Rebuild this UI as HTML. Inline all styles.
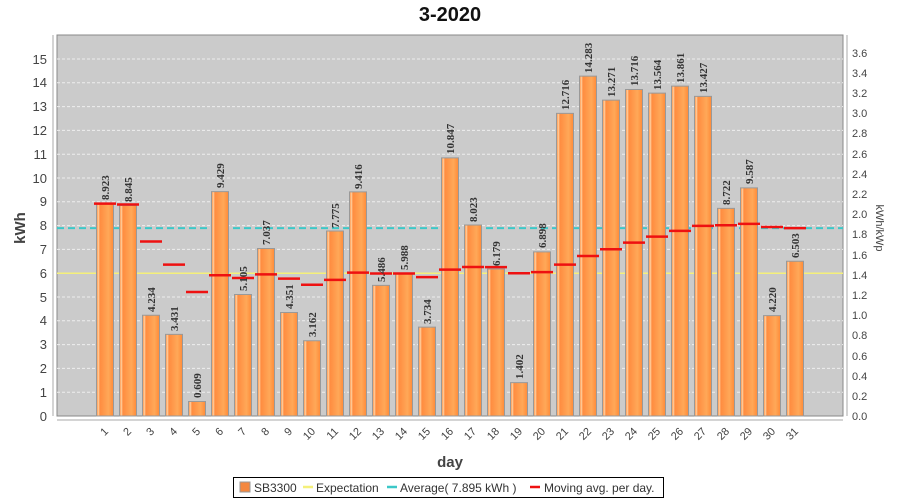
<!DOCTYPE html>
<html><head><meta charset="utf-8"><style>
html,body{margin:0;padding:0;background:#fff;}
svg{display:block;font-family:"Liberation Sans",sans-serif;}
.v{font-family:"Liberation Serif",serif;font-weight:bold;font-size:11px;fill:#333;}
.xt{font-size:11px;fill:#444;}
.yt{font-size:13px;fill:#444;}
.rt{font-size:11px;fill:#444;}
</style></head><body>
<svg width="900" height="500" viewBox="0 0 900 500">
<defs>
<linearGradient id="g" x1="0" x2="1" y1="0" y2="0">
<stop offset="0" stop-color="#ff8a3a"/><stop offset="0.12" stop-color="#ffd0a0"/><stop offset="0.2" stop-color="#ff8c40"/><stop offset="0.7" stop-color="#ffa858"/><stop offset="1" stop-color="#ff8a38"/>
</linearGradient>
</defs>
<text x="450" y="21" text-anchor="middle" font-size="20" font-weight="bold" fill="#111">3-2020</text>
<rect x="57" y="35" width="786" height="381" fill="#cbcbcb" stroke="#888" stroke-width="1"/>
<g stroke="#eee" stroke-dasharray="3,2" stroke-width="1">
<line x1="57" x2="843" y1="392.2" y2="392.2"/><line x1="57" x2="843" y1="368.4" y2="368.4"/><line x1="57" x2="843" y1="344.6" y2="344.6"/><line x1="57" x2="843" y1="320.8" y2="320.8"/><line x1="57" x2="843" y1="297" y2="297"/><line x1="57" x2="843" y1="273.2" y2="273.2"/><line x1="57" x2="843" y1="249.4" y2="249.4"/><line x1="57" x2="843" y1="225.6" y2="225.6"/><line x1="57" x2="843" y1="201.8" y2="201.8"/><line x1="57" x2="843" y1="178" y2="178"/><line x1="57" x2="843" y1="154.2" y2="154.2"/><line x1="57" x2="843" y1="130.4" y2="130.4"/><line x1="57" x2="843" y1="106.6" y2="106.6"/><line x1="57" x2="843" y1="82.8" y2="82.8"/><line x1="57" x2="843" y1="59" y2="59"/>
</g>
<line x1="53" y1="35" x2="53" y2="416" stroke="#aaa"/>
<line x1="57" y1="420" x2="843" y2="420" stroke="#aaa"/>
<line x1="847" y1="35" x2="847" y2="416" stroke="#aaa"/>
<g class="yt" text-anchor="end">
<text x="47" y="421">0</text><text x="47" y="397">1</text><text x="47" y="373">2</text><text x="47" y="349">3</text><text x="47" y="325">4</text><text x="47" y="302">5</text><text x="47" y="278">6</text><text x="47" y="254">7</text><text x="47" y="230">8</text><text x="47" y="206">9</text><text x="47" y="183">10</text><text x="47" y="159">11</text><text x="47" y="135">12</text><text x="47" y="111">13</text><text x="47" y="87">14</text><text x="47" y="64">15</text>
</g>
<g class="rt">
<text x="852" y="420">0.0</text><text x="852" y="400">0.2</text><text x="852" y="380">0.4</text><text x="852" y="360">0.6</text><text x="852" y="339">0.8</text><text x="852" y="319">1.0</text><text x="852" y="299">1.2</text><text x="852" y="279">1.4</text><text x="852" y="259">1.6</text><text x="852" y="238">1.8</text><text x="852" y="218">2.0</text><text x="852" y="198">2.2</text><text x="852" y="178">2.4</text><text x="852" y="158">2.6</text><text x="852" y="137">2.8</text><text x="852" y="117">3.0</text><text x="852" y="97">3.2</text><text x="852" y="77">3.4</text><text x="852" y="57">3.6</text>
</g>
<text transform="translate(25,228) rotate(-90)" text-anchor="middle" font-size="15" font-weight="bold" fill="#444">kWh</text>
<text transform="translate(876,228) rotate(90)" text-anchor="middle" font-size="11" fill="#444">kWh/kWp</text>
<line x1="57" x2="843" y1="273.2" y2="273.2" stroke="#f5f07a" stroke-width="1.5"/>
<line x1="57" x2="843" y1="228.1" y2="228.1" stroke="#3cc8c8" stroke-width="2" stroke-dasharray="7,4"/>
<g transform="translate(0,416) scale(1,-23.8)" fill="url(#g)" stroke="#999" stroke-width="1">
<rect vector-effect="non-scaling-stroke" x="96.5" width="17" height="8.923"/>
<rect vector-effect="non-scaling-stroke" x="119.5" width="17" height="8.845"/>
<rect vector-effect="non-scaling-stroke" x="142.5" width="17" height="4.234"/>
<rect vector-effect="non-scaling-stroke" x="165.5" width="17" height="3.431"/>
<rect vector-effect="non-scaling-stroke" x="188.5" width="17" height="0.609"/>
<rect vector-effect="non-scaling-stroke" x="211.5" width="17" height="9.429"/>
<rect vector-effect="non-scaling-stroke" x="234.5" width="17" height="5.105"/>
<rect vector-effect="non-scaling-stroke" x="257.5" width="17" height="7.037"/>
<rect vector-effect="non-scaling-stroke" x="280.5" width="17" height="4.351"/>
<rect vector-effect="non-scaling-stroke" x="303.5" width="17" height="3.162"/>
<rect vector-effect="non-scaling-stroke" x="326.5" width="17" height="7.775"/>
<rect vector-effect="non-scaling-stroke" x="349.5" width="17" height="9.416"/>
<rect vector-effect="non-scaling-stroke" x="372.5" width="17" height="5.486"/>
<rect vector-effect="non-scaling-stroke" x="395.5" width="17" height="5.988"/>
<rect vector-effect="non-scaling-stroke" x="418.5" width="17" height="3.734"/>
<rect vector-effect="non-scaling-stroke" x="441.5" width="17" height="10.847"/>
<rect vector-effect="non-scaling-stroke" x="464.5" width="17" height="8.023"/>
<rect vector-effect="non-scaling-stroke" x="487.5" width="17" height="6.179"/>
<rect vector-effect="non-scaling-stroke" x="510.5" width="17" height="1.402"/>
<rect vector-effect="non-scaling-stroke" x="533.5" width="17" height="6.898"/>
<rect vector-effect="non-scaling-stroke" x="556.5" width="17" height="12.716"/>
<rect vector-effect="non-scaling-stroke" x="579.5" width="17" height="14.283"/>
<rect vector-effect="non-scaling-stroke" x="602.5" width="17" height="13.271"/>
<rect vector-effect="non-scaling-stroke" x="625.5" width="17" height="13.716"/>
<rect vector-effect="non-scaling-stroke" x="648.5" width="17" height="13.564"/>
<rect vector-effect="non-scaling-stroke" x="671.5" width="17" height="13.861"/>
<rect vector-effect="non-scaling-stroke" x="694.5" width="17" height="13.427"/>
<rect vector-effect="non-scaling-stroke" x="717.5" width="17" height="8.722"/>
<rect vector-effect="non-scaling-stroke" x="740.5" width="17" height="9.587"/>
<rect vector-effect="non-scaling-stroke" x="763.5" width="17" height="4.220"/>
<rect vector-effect="non-scaling-stroke" x="786.5" width="17" height="6.503"/>
</g>
<g transform="translate(0,416) scale(1,-23.8)" stroke="#ee1111" stroke-width="2.5">
<line vector-effect="non-scaling-stroke" x1="94" x2="116" y1="8.923" y2="8.923"/>
<line vector-effect="non-scaling-stroke" x1="117" x2="139" y1="8.884" y2="8.884"/>
<line vector-effect="non-scaling-stroke" x1="140" x2="162" y1="7.334" y2="7.334"/>
<line vector-effect="non-scaling-stroke" x1="163" x2="185" y1="6.358" y2="6.358"/>
<line vector-effect="non-scaling-stroke" x1="186" x2="208" y1="5.208" y2="5.208"/>
<line vector-effect="non-scaling-stroke" x1="209" x2="231" y1="5.912" y2="5.912"/>
<line vector-effect="non-scaling-stroke" x1="232" x2="254" y1="5.797" y2="5.797"/>
<line vector-effect="non-scaling-stroke" x1="255" x2="277" y1="5.952" y2="5.952"/>
<line vector-effect="non-scaling-stroke" x1="278" x2="300" y1="5.774" y2="5.774"/>
<line vector-effect="non-scaling-stroke" x1="301" x2="323" y1="5.513" y2="5.513"/>
<line vector-effect="non-scaling-stroke" x1="324" x2="346" y1="5.718" y2="5.718"/>
<line vector-effect="non-scaling-stroke" x1="347" x2="369" y1="6.026" y2="6.026"/>
<line vector-effect="non-scaling-stroke" x1="370" x2="392" y1="5.985" y2="5.985"/>
<line vector-effect="non-scaling-stroke" x1="393" x2="415" y1="5.985" y2="5.985"/>
<line vector-effect="non-scaling-stroke" x1="416" x2="438" y1="5.835" y2="5.835"/>
<line vector-effect="non-scaling-stroke" x1="439" x2="461" y1="6.148" y2="6.148"/>
<line vector-effect="non-scaling-stroke" x1="462" x2="484" y1="6.259" y2="6.259"/>
<line vector-effect="non-scaling-stroke" x1="485" x2="507" y1="6.254" y2="6.254"/>
<line vector-effect="non-scaling-stroke" x1="508" x2="530" y1="5.999" y2="5.999"/>
<line vector-effect="non-scaling-stroke" x1="531" x2="553" y1="6.044" y2="6.044"/>
<line vector-effect="non-scaling-stroke" x1="554" x2="576" y1="6.361" y2="6.361"/>
<line vector-effect="non-scaling-stroke" x1="577" x2="599" y1="6.722" y2="6.722"/>
<line vector-effect="non-scaling-stroke" x1="600" x2="622" y1="7.006" y2="7.006"/>
<line vector-effect="non-scaling-stroke" x1="623" x2="645" y1="7.286" y2="7.286"/>
<line vector-effect="non-scaling-stroke" x1="646" x2="668" y1="7.537" y2="7.537"/>
<line vector-effect="non-scaling-stroke" x1="669" x2="691" y1="7.780" y2="7.780"/>
<line vector-effect="non-scaling-stroke" x1="692" x2="714" y1="7.989" y2="7.989"/>
<line vector-effect="non-scaling-stroke" x1="715" x2="737" y1="8.016" y2="8.016"/>
<line vector-effect="non-scaling-stroke" x1="738" x2="760" y1="8.070" y2="8.070"/>
<line vector-effect="non-scaling-stroke" x1="761" x2="783" y1="7.941" y2="7.941"/>
<line vector-effect="non-scaling-stroke" x1="784" x2="806" y1="7.895" y2="7.895"/>
</g>
<g class="v">
<text transform="translate(109,200) rotate(-90)">8.923</text>
<text transform="translate(132,202) rotate(-90)">8.845</text>
<text transform="translate(155,312) rotate(-90)">4.234</text>
<text transform="translate(178,331) rotate(-90)">3.431</text>
<text transform="translate(201,398) rotate(-90)">0.609</text>
<text transform="translate(224,188) rotate(-90)">9.429</text>
<text transform="translate(247,291) rotate(-90)">5.105</text>
<text transform="translate(270,245) rotate(-90)">7.037</text>
<text transform="translate(293,309) rotate(-90)">4.351</text>
<text transform="translate(316,337) rotate(-90)">3.162</text>
<text transform="translate(339,228) rotate(-90)">7.775</text>
<text transform="translate(362,189) rotate(-90)">9.416</text>
<text transform="translate(385,282) rotate(-90)">5.486</text>
<text transform="translate(408,270) rotate(-90)">5.988</text>
<text transform="translate(431,324) rotate(-90)">3.734</text>
<text transform="translate(454,154) rotate(-90)">10.847</text>
<text transform="translate(477,222) rotate(-90)">8.023</text>
<text transform="translate(500,266) rotate(-90)">6.179</text>
<text transform="translate(523,379) rotate(-90)">1.402</text>
<text transform="translate(546,248) rotate(-90)">6.898</text>
<text transform="translate(569,110) rotate(-90)">12.716</text>
<text transform="translate(592,73) rotate(-90)">14.283</text>
<text transform="translate(615,97) rotate(-90)">13.271</text>
<text transform="translate(638,86) rotate(-90)">13.716</text>
<text transform="translate(661,90) rotate(-90)">13.564</text>
<text transform="translate(684,83) rotate(-90)">13.861</text>
<text transform="translate(707,93) rotate(-90)">13.427</text>
<text transform="translate(730,205) rotate(-90)">8.722</text>
<text transform="translate(753,184) rotate(-90)">9.587</text>
<text transform="translate(776,312) rotate(-90)">4.220</text>
<text transform="translate(799,258) rotate(-90)">6.503</text>
</g>
<g class="xt" text-anchor="end">
<text transform="translate(109,432) rotate(-45)">1</text>
<text transform="translate(132,432) rotate(-45)">2</text>
<text transform="translate(155,432) rotate(-45)">3</text>
<text transform="translate(178,432) rotate(-45)">4</text>
<text transform="translate(201,432) rotate(-45)">5</text>
<text transform="translate(224,432) rotate(-45)">6</text>
<text transform="translate(247,432) rotate(-45)">7</text>
<text transform="translate(270,432) rotate(-45)">8</text>
<text transform="translate(293,432) rotate(-45)">9</text>
<text transform="translate(316,432) rotate(-45)">10</text>
<text transform="translate(339,432) rotate(-45)">11</text>
<text transform="translate(362,432) rotate(-45)">12</text>
<text transform="translate(385,432) rotate(-45)">13</text>
<text transform="translate(408,432) rotate(-45)">14</text>
<text transform="translate(431,432) rotate(-45)">15</text>
<text transform="translate(454,432) rotate(-45)">16</text>
<text transform="translate(477,432) rotate(-45)">17</text>
<text transform="translate(500,432) rotate(-45)">18</text>
<text transform="translate(523,432) rotate(-45)">19</text>
<text transform="translate(546,432) rotate(-45)">20</text>
<text transform="translate(569,432) rotate(-45)">21</text>
<text transform="translate(592,432) rotate(-45)">22</text>
<text transform="translate(615,432) rotate(-45)">23</text>
<text transform="translate(638,432) rotate(-45)">24</text>
<text transform="translate(661,432) rotate(-45)">25</text>
<text transform="translate(684,432) rotate(-45)">26</text>
<text transform="translate(707,432) rotate(-45)">27</text>
<text transform="translate(730,432) rotate(-45)">28</text>
<text transform="translate(753,432) rotate(-45)">29</text>
<text transform="translate(776,432) rotate(-45)">30</text>
<text transform="translate(799,432) rotate(-45)">31</text>
</g>
<text x="450" y="467" text-anchor="middle" font-size="15" font-weight="bold" fill="#444">day</text>
<rect x="233.5" y="477.5" width="430" height="20" fill="#fff" stroke="#000"/>
<rect x="240" y="482" width="10" height="10" fill="#f48840" stroke="#999"/>
<text x="254" y="492" font-size="12" fill="#333">SB3300</text>
<line x1="303" x2="313" y1="487" y2="487" stroke="#f5f07a" stroke-width="2.5"/>
<text x="316" y="492" font-size="12" fill="#333">Expectation</text>
<line x1="387" x2="397" y1="487" y2="487" stroke="#3cc8c8" stroke-width="2.5"/>
<text x="400" y="492" font-size="12" fill="#333">Average( 7.895 kWh )</text>
<line x1="530" x2="540" y1="487" y2="487" stroke="#ee1111" stroke-width="2.5"/>
<text x="544" y="492" font-size="12" fill="#333">Moving avg. per day.</text>
</svg>
</body></html>
